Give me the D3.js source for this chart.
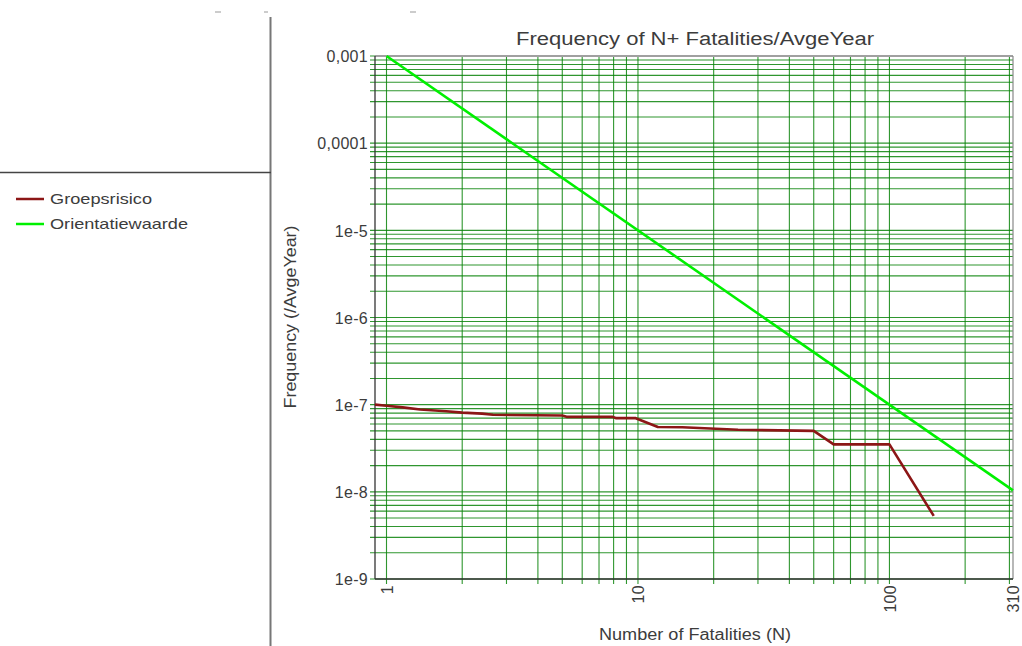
<!DOCTYPE html>
<html>
<head>
<meta charset="utf-8">
<script src="https://cdn.jsdelivr.net/npm/d3@7"></script>
<style>
  html, body { margin: 0; padding: 0; background: #fff; }
  svg { display: block; }
  text { font-family: "Liberation Sans", Arial, sans-serif; fill: #3c3c3c; }
</style>
</head>
<body>
<svg id="chart" width="1022" height="646"></svg>
<script>
// ---- data ----
const seriesNames = ["Groepsrisico", "Orientatiewaarde"];
const seriesColors = ["#8c1616", "#00f000"];
const groepN = [0.9, 1, 1.16, 1.36, 1.73, 2, 2.4, 2.65, 5, 5.2, 7.9, 8.2, 9.8, 12, 15, 25, 50, 60, 100, 150];
const groepF = [1.0e-7, 0.97e-7, 0.93e-7, 0.88e-7, 0.84e-7, 0.81e-7, 0.79e-7, 0.765e-7, 0.75e-7, 0.725e-7,
                0.725e-7, 0.70e-7, 0.70e-7, 0.555e-7, 0.55e-7, 0.515e-7, 0.50e-7, 0.35e-7, 0.35e-7, 5.3e-9];
const orientN = [1, 310];
const orientF = [1e-3, 1.04e-8];
const xTickValues = [1, 10, 100, 310];
const xTickLabels = ["1", "10", "100", "310"];
const yTickValues = [1e-3, 1e-4, 1e-5, 1e-6, 1e-7, 1e-8, 1e-9];
const yTickLabels = ["0,001", "0,0001", "1e-5", "1e-6", "1e-7", "1e-8", "1e-9"];
const titleText = "Frequency of N+ Fatalities/AvgeYear";
const xTitle = "Number of Fatalities (N)";
const yTitle = "Frequency (/AvgeYear)";

// ---- layout ----
const svg = d3.select("#chart");
const L = 375, R = 1013, T = 56, B = 579;
const x = d3.scaleLog().domain([0.9, 310]).range([L, R]);
const y = d3.scaleLog().domain([1e-9, 1e-3]).range([B, T]);

// left panel separators
svg.append("line").attr("x1", 270.5).attr("x2", 270.5).attr("y1", 17).attr("y2", 646)
  .attr("stroke", "#777").attr("stroke-width", 2);
svg.append("line").attr("x1", 0).attr("x2", 271).attr("y1", 172.5).attr("y2", 172.5)
  .attr("stroke", "#444").attr("stroke-width", 1.3);
[[215, 221], [264, 268], [410, 416]].forEach(d => {
  svg.append("line").attr("x1", d[0]).attr("x2", d[1]).attr("y1", 12).attr("y2", 12)
    .attr("stroke", "#999").attr("stroke-width", 1);
});

// gridlines
const yGrid = [];
for (let e = -9; e <= -4; e++) for (let k = 1; k <= 9; k++) yGrid.push(k * Math.pow(10, e));
yGrid.push(1e-3);
const xGrid = [];
for (let e = 0; e <= 2; e++) for (let k = 1; k <= 9; k++) { const v = k * Math.pow(10, e); if (v <= 310) xGrid.push(v); }

const grid = svg.append("g");
grid.selectAll("line.h").data(yGrid).join("line").attr("class", "h")
  .attr("x1", L - 5).attr("x2", R).attr("y1", d => y(d)).attr("y2", d => y(d))
  .attr("stroke", "#0b840b").attr("stroke-opacity", 0.85).attr("stroke-width", 1.1);
grid.selectAll("line.v").data(xGrid).join("line").attr("class", "v")
  .attr("y1", T).attr("y2", B + 5).attr("x1", d => x(d)).attr("x2", d => x(d))
  .attr("stroke", "#0b840b").attr("stroke-opacity", 0.85).attr("stroke-width", 1.1);

// frame
svg.append("line").attr("x1", L).attr("x2", R).attr("y1", T).attr("y2", T).attr("stroke", "#a0a0a0").attr("stroke-width", 2);
svg.append("line").attr("x1", R).attr("x2", R).attr("y1", T).attr("y2", B).attr("stroke", "#888").attr("stroke-width", 1.2);
svg.append("line").attr("x1", L).attr("x2", L).attr("y1", T).attr("y2", B).attr("stroke", "#333").attr("stroke-width", 1.3);
svg.append("line").attr("x1", L).attr("x2", R).attr("y1", B).attr("y2", B).attr("stroke", "#333").attr("stroke-width", 1.3);

// axes labels via d3 axes
const yAxis = d3.axisLeft(y).tickValues(yTickValues).tickSize(0).tickPadding(0)
  .tickFormat((d, i) => yTickLabels[i]);
const gy = svg.append("g").attr("transform", `translate(${L - 7},0)`).call(yAxis);
gy.select(".domain").remove();
gy.selectAll("text").style("font-family", '"Liberation Sans", Arial, sans-serif')
  .style("font-size", "16px").attr("fill", "#3c3c3c").attr("letter-spacing", "0.3px").attr("dy", "0.36em");

const xAxis = d3.axisBottom(x).tickValues(xTickValues).tickSize(0).tickPadding(0)
  .tickFormat((d, i) => xTickLabels[i]);
const gx = svg.append("g").attr("transform", `translate(0,${B + 6})`).call(xAxis);
gx.select(".domain").remove();
gx.selectAll("text").style("font-family", '"Liberation Sans", Arial, sans-serif')
  .style("font-size", "16px").attr("fill", "#3c3c3c").attr("letter-spacing", "0.3px")
  .attr("transform", "rotate(-90)").attr("text-anchor", "end").attr("x", 0).attr("y", 0).attr("dy", "0.36em");

// series
const line = d3.line().x(d => x(d[0])).y(d => y(d[1]));
svg.append("path").datum(orientN.map((n, i) => [n, orientF[i]])).attr("d", line)
  .attr("fill", "none").attr("stroke", seriesColors[1]).attr("stroke-width", 2.6);
svg.append("path").datum(groepN.map((n, i) => [n, groepF[i]])).attr("d", line)
  .attr("fill", "none").attr("stroke", seriesColors[0]).attr("stroke-width", 2.6).attr("stroke-linejoin", "round");

// titles
svg.append("text").attr("x", 695).attr("y", 45).attr("text-anchor", "middle")
  .style("font-size", "18px").attr("textLength", 358).attr("lengthAdjust", "spacingAndGlyphs").text(titleText);
svg.append("text").attr("x", 695).attr("y", 640).attr("text-anchor", "middle")
  .style("font-size", "16px").attr("textLength", 192).attr("lengthAdjust", "spacingAndGlyphs").text(xTitle);
svg.append("text").attr("transform", "translate(296,317) rotate(-90)").attr("text-anchor", "middle")
  .style("font-size", "16px").attr("textLength", 183).attr("lengthAdjust", "spacingAndGlyphs").text(yTitle);

// legend
const leg = svg.append("g");
const legY = [199, 224], legW = [102, 138];
seriesNames.forEach((name, i) => {
  leg.append("line").attr("x1", 16).attr("x2", 44).attr("y1", legY[i]).attr("y2", legY[i])
    .attr("stroke", seriesColors[i]).attr("stroke-width", 2.5);
  leg.append("text").attr("x", 50).attr("y", legY[i]).attr("dy", "0.36em")
    .style("font-size", "15px").attr("textLength", legW[i]).attr("lengthAdjust", "spacingAndGlyphs").text(name);
});
</script>
</body>
</html>
